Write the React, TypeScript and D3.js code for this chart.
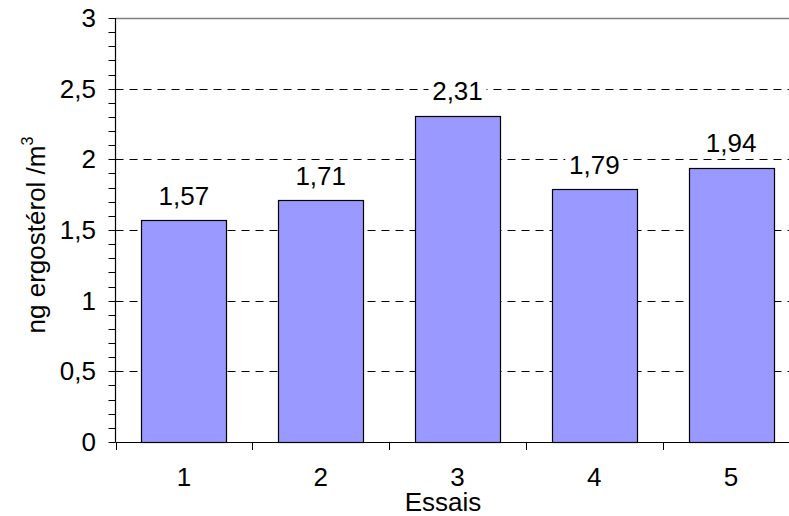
import React from "react";
import * as d3 from "d3";

const categories = ["1", "2", "3", "4", "5"];
const values = [1.57, 1.71, 2.31, 1.79, 1.94];
const valueLabels = ["1,57", "1,71", "2,31", "1,79", "1,94"];
const yTicks = [0, 0.5, 1, 1.5, 2, 2.5, 3];
const yTickLabels = ["0", "0,5", "1", "1,5", "2", "2,5", "3"];
const yMinorTicks = d3.range(0, 31).map((i) => i / 10);
const xTitle = "Essais";
const yTitle = "ng ergostérol /m";

const W = 789;
const H = 516;
const left = 115.5;
const right = 799.5;
const top = 18;
const bottom = 442;
const FONT = "'Liberation Sans', Arial, sans-serif";
const FS = 26;

export default function App() {
  const x = d3
    .scaleBand<string>()
    .domain(categories)
    .range([left, right])
    .paddingInner(0.38)
    .paddingOuter(0.19);
  const y = d3.scaleLinear().domain([0, 3]).range([bottom, top]);
  const step = x.step();
  const boundaries = d3.range(0, categories.length + 1).map((i) => left + i * step);

  return (
    <svg
      width={W}
      height={H}
      style={{ position: "absolute", left: 0, top: 0, background: "#fff" }}
      fontFamily={FONT}
    >
      <rect x={0} y={0} width={W} height={H} fill="#fff" />
      {/* gridlines */}
      {yTicks
        .filter((t) => t > 0 && t < 3)
        .map((t) => (
          <line
            key={"g" + t}
            x1={left}
            x2={right}
            y1={Math.round(y(t)) + 0.5}
            y2={Math.round(y(t)) + 0.5}
            stroke="#000"
            strokeWidth={1}
            strokeDasharray="8,6"
          />
        ))}
      <line x1={left} x2={right} y1={top + 0.5} y2={top + 0.5} stroke="#808080" strokeWidth={1.5} />
      {/* bars */}
      {categories.map((c, i) => (
        <rect
          key={"b" + c}
          x={Math.round(x(c)!) + 0.5}
          y={Math.round(y(values[i])) + 0.5}
          width={Math.round(x.bandwidth())}
          height={Math.round(bottom - y(values[i]))}
          fill="#9999FF"
          stroke="#000"
          strokeWidth={1.2}
        />
      ))}
      {/* value labels with white background */}
      {categories.map((c, i) => {
        const cx = x(c)! + x.bandwidth() / 2;
        const by = y(values[i]) - 15.5;
        return (
          <g key={"l" + c}>
            <rect x={cx - 29} y={by - 21} width={58} height={26} fill="#fff" />
            <text x={cx} y={by} textAnchor="middle" fontSize={FS} fill="#000">
              {valueLabels[i]}
            </text>
          </g>
        );
      })}
      {/* y axis */}
      <line x1={left} x2={left} y1={top} y2={bottom} stroke="#000" strokeWidth={1.2} />
      {yMinorTicks.map((t) => (
        <line
          key={"m" + t}
          x1={left - 7}
          x2={left}
          y1={Math.round(y(t)) + 0.5}
          y2={Math.round(y(t)) + 0.5}
          stroke="#000"
          strokeWidth={1}
        />
      ))}
      {yTicks.map((t, i) => (
        <text
          key={"yl" + t}
          x={96}
          y={y(t) + 9}
          textAnchor="end"
          fontSize={FS}
          fill="#000"
        >
          {yTickLabels[i]}
        </text>
      ))}
      {/* x axis */}
      <line x1={left} x2={right} y1={bottom + 0.5} y2={bottom + 0.5} stroke="#000" strokeWidth={1.2} />
      {boundaries.map((b, i) => (
        <line
          key={"xt" + i}
          x1={Math.round(b) + 0.5}
          x2={Math.round(b) + 0.5}
          y1={bottom}
          y2={bottom + 8}
          stroke="#000"
          strokeWidth={1}
        />
      ))}
      {categories.map((c) => (
        <text
          key={"xl" + c}
          x={x(c)! + x.bandwidth() / 2}
          y={486}
          textAnchor="middle"
          fontSize={FS}
          fill="#000"
        >
          {c}
        </text>
      ))}
      <text x={443} y={511} textAnchor="middle" fontSize={FS} fill="#000">
        {xTitle}
      </text>
      <text
        transform={`translate(45, ${235}) rotate(-90)`}
        textAnchor="middle"
        fontSize={FS}
        fill="#000"
      >
        {yTitle}
        <tspan fontSize={16} dy={-12}>
          3
        </tspan>
      </text>
    </svg>
  );
}
